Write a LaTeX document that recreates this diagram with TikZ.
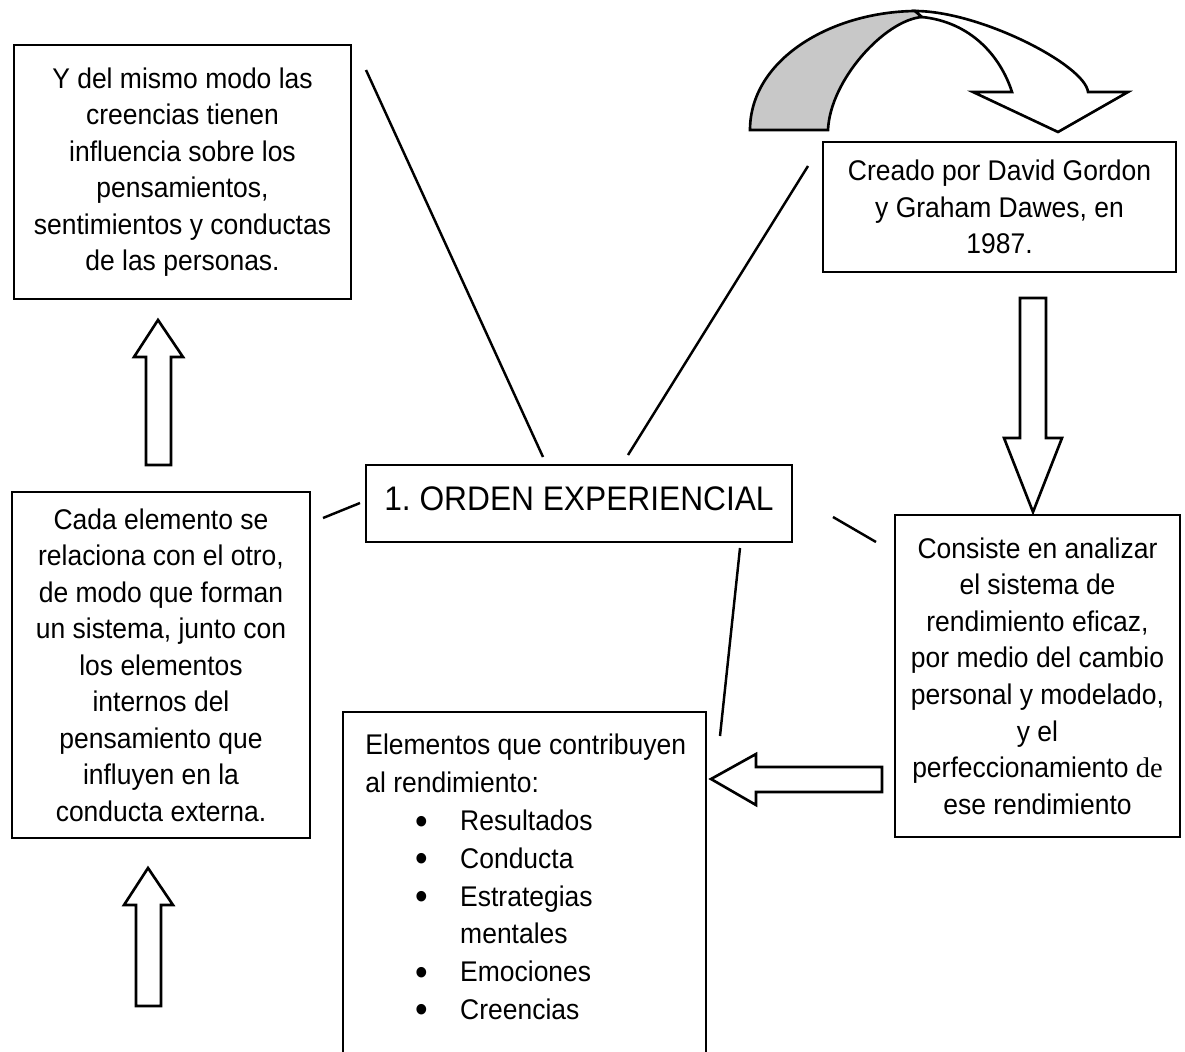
\documentclass[tikz,border=0pt]{standalone}
\usepackage{fontspec}
\setmainfont[FakeStretch=0.93]{Liberation Sans}
\newfontfamily\serifde{Liberation Serif}
\definecolor{arrowgray}{RGB}{200,200,200}
\newcommand{\bigbul}{\makebox[25.5pt][l]{\raisebox{-2pt}{\fontsize{22}{0}\selectfont •}}}
\begin{document}
\begin{tikzpicture}[x=0.02cm,y=-0.02cm,
  box/.style={draw, line width=1.6pt, inner sep=0pt, align=center,
    font=\fontsize{16.2}{20.8}\selectfont},
  conn/.style={line width=1.4pt},
  blockarrow/.style={draw, line width=1.5pt, fill=white, line join=miter}]
\useasboundingbox (0,0) rectangle (1185,1051);
\clip (0,0) rectangle (1185,1051);
\fill[white] (0,0) rectangle (1185,1051);

% boxes
\node[box, minimum width=6.74cm, minimum height=5.08cm] (tl) at (182.5,172)
  {Y del mismo modo las\\creencias tienen\\influencia sobre los\\pensamientos,\\sentimientos y conductas\\de las personas.};
\node[box, minimum width=7.06cm, minimum height=2.6cm] (tr) at (999.5,207)
  {Creado por David Gordon\\y Graham Dawes, en\\1987.};
\node[box, minimum width=8.52cm, minimum height=1.54cm, font=\fontsize{19.4}{23}\selectfont,
  text depth=6pt] (orden) at (579,503.5) {1.\ ORDEN EXPERIENCIAL};
\node[box, minimum width=5.96cm, minimum height=6.92cm] (lm) at (161,665)
  {Cada elemento se\\relaciona con el otro,\\de modo que forman\\un sistema, junto con\\los elementos\\internos del\\pensamiento que\\influyen en la\\conducta externa.};
\node[box, minimum width=5.7cm, minimum height=6.44cm] (rm) at (1037.5,676)
  {Consiste en analizar\\el sistema de\\rendimiento eficaz,\\por medio del cambio\\personal y modelado,\\y el\\perfeccionamiento {\serifde de}\\ese rendimiento};
\node[box, minimum width=7.26cm, minimum height=7.16cm] (bm) at (524.5,891) {};
\node[anchor=north west, inner sep=0pt, align=left,
  font=\fontsize{16.2}{21.5}\selectfont] (bmtext) at (365,734)
  {Elementos que contribuyen\\
   al rendimiento:\\
   \hspace*{28.5pt}\bigbul Resultados\\
   \hspace*{28.5pt}\bigbul Conducta\\
   \hspace*{28.5pt}\bigbul Estrategias\\
   \hspace*{54pt}mentales\\
   \hspace*{28.5pt}\bigbul Emociones\\
   \hspace*{28.5pt}\bigbul Creencias};

% connector end points
\coordinate (c1a) at (366,70);  \coordinate (c1b) at (543,457);
\coordinate (c2a) at (808,166); \coordinate (c2b) at (628,455);
\coordinate (c3a) at (323,518); \coordinate (c3b) at (360,503);
\coordinate (c4a) at (833,517); \coordinate (c4b) at (876,542);
\coordinate (c5a) at (740,548); \coordinate (c5b) at (720,736);
\draw[conn] (c1a) -- (c1b);
\draw[conn] (c2a) -- (c2b);
\draw[conn] (c3a) -- (c3b);
\draw[conn] (c4a) -- (c4b);
\draw[conn] (c5a) -- (c5b);

% block arrows
\draw[blockarrow] (146,465) -- (146,357) -- (134,357) -- (158,320) -- (183,357) -- (171,357) -- (171,465) -- cycle;
\draw[blockarrow] (136,1006) -- (136,905) -- (124,905) -- (148,868) -- (173,905) -- (161,905) -- (161,1006) -- cycle;
\draw[blockarrow] (1020,298) -- (1020,438) -- (1004,438) -- (1033,512) -- (1062,438) -- (1046,438) -- (1046,298) -- cycle;
\draw[blockarrow] (882,767) -- (756,767) -- (756,754) -- (711,779) -- (756,805) -- (756,792) -- (882,792) -- cycle;

% curved arrow
\filldraw[blockarrow, fill=arrowgray] (750,130) .. controls (750,60) and (830,12) .. (915,11)
  -- (922,17) .. controls (885,20) and (830,80) .. (828,130) -- cycle;
\filldraw[blockarrow] (915,11) .. controls (980,11) and (1085,65) .. (1088,92) -- (1128,92) -- (1058,132)
  -- (973,92) -- (1012,92) .. controls (1000,55) and (970,22) .. (922,17) -- cycle;
\end{tikzpicture}
\end{document}
